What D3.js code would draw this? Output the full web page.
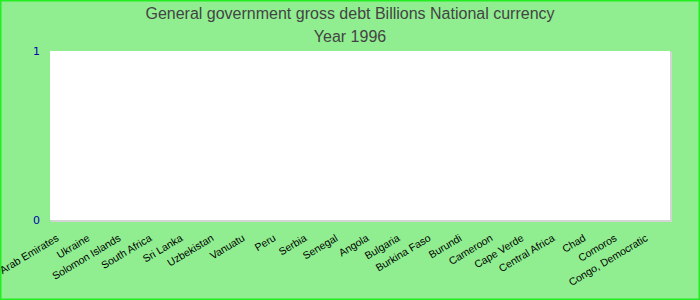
<!DOCTYPE html>
<html lang="en">

<head>
    <meta charset="utf-8">
    <title>General government gross debt</title>
    <script type="text/javascript" src="https://cdn.jsdelivr.net/npm/d3@7/dist/d3.min.js"></script>
    <style>
        body { margin: 0; }
        .tick-x { font-family: "Liberation Sans", Arial, sans-serif; font-size: 10.5px; fill: #000; }
        .tick-y { font-family: "DejaVu Sans", sans-serif; font-size: 11px; fill: #0000b0; }
        .title { font-family: "Liberation Sans", Arial, sans-serif; font-size: 16px; fill: #444; }
    </style>
</head>

<body>
    <div id="chart"></div>

    <script>
        // data - every country reports nothing for 1996
        const countries = ["United Arab Emirates", "Ukraine", "Solomon Islands", "South Africa", "Sri Lanka",
            "Uzbekistan", "Vanuatu", "Peru", "Serbia", "Senegal", "Angola", "Bulgaria", "Burkina Faso",
            "Burundi", "Cameroon", "Cape Verde", "Central Africa", "Chad", "Comoros", "Congo, Democratic"];
        const debt = [0, 0, 0, 0, 0, 0, 0, 0, 0, 0, 0, 0, 0, 0, 0, 0, 0, 0, 0, 0];
        const yTicks = [0, 1];
        const titleLines = ["General government gross debt Billions National currency", "Year 1996"];

        const width = 700;
        const height = 300;
        const margin = { top: 51, right: 30, bottom: 80, left: 50 };

        const svg = d3.select("#chart")
            .append("svg")
            .attr("width", width)
            .attr("height", height);

        svg.append("rect")
            .attr("width", width)
            .attr("height", height)
            .attr("fill", "#90ee90")
            .attr("stroke", "#22ee22")
            .attr("stroke-width", 3);

        const x = d3.scaleBand()
            .domain(countries)
            .range([margin.left, width - margin.right]);

        const y = d3.scaleLinear()
            .domain([0, 1])
            .range([height - margin.bottom, margin.top]);

        // plot area with a faint shadow on the right / bottom
        svg.append("rect")
            .attr("x", margin.left + 1)
            .attr("y", margin.top + 1)
            .attr("width", width - margin.left - margin.right + 1)
            .attr("height", height - margin.top - margin.bottom + 1)
            .attr("fill", "#d4d4d4");
        svg.append("rect")
            .attr("x", margin.left)
            .attr("y", margin.top)
            .attr("width", width - margin.left - margin.right)
            .attr("height", height - margin.top - margin.bottom)
            .attr("fill", "#fff");

        // bars (all zero height)
        svg.append("g")
            .selectAll("rect")
            .data(debt)
            .enter()
            .append("rect")
            .attr("x", (d, i) => x(countries[i]) + x.bandwidth() * 0.1)
            .attr("width", x.bandwidth() * 0.8)
            .attr("y", d => y(d))
            .attr("height", d => y(0) - y(d))
            .attr("fill", "#4682b4");

        // y axis
        const yAxis = svg.append("g")
            .attr("transform", `translate(${margin.left},0)`)
            .call(d3.axisLeft(y).tickValues(yTicks).tickFormat(d3.format("d")).tickSize(0).tickPadding(10));
        yAxis.select(".domain").remove();
        yAxis.selectAll("text").attr("class", "tick-y").attr("font-family", null).attr("font-size", null);

        // x axis, rotated labels
        const xAxis = svg.append("g")
            .attr("transform", `translate(0,${height - margin.bottom})`)
            .call(d3.axisBottom(x).tickSize(0));
        xAxis.select(".domain").remove();
        xAxis.selectAll("text")
            .attr("class", "tick-x")
            .attr("font-family", null)
            .attr("font-size", null)
            .attr("text-anchor", "end")
            .attr("dy", null)
            .attr("y", 0)
            .attr("transform", "translate(-6,20) rotate(-31)");

        // title
        svg.selectAll(".title")
            .data(titleLines)
            .enter()
            .append("text")
            .attr("class", "title")
            .attr("x", width / 2)
            .attr("y", (d, i) => 19 + i * 23)
            .attr("text-anchor", "middle")
            .text(d => d);
    </script>
</body>

</html>
